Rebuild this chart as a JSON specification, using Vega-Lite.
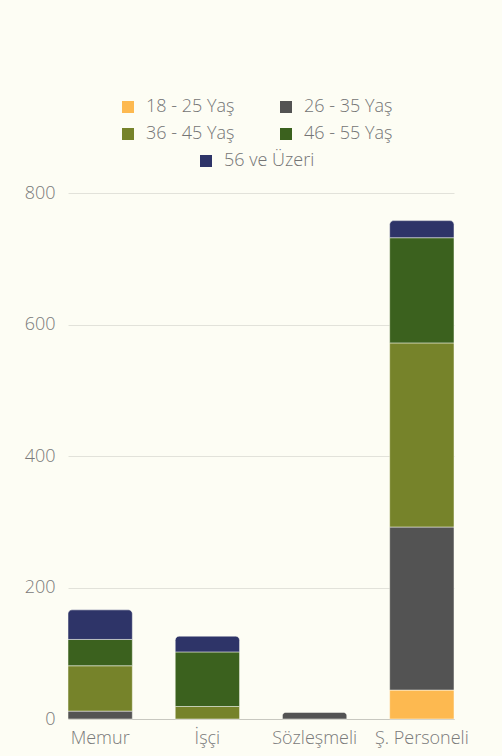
{
  "$schema": "https://vega.github.io/schema/vega-lite/v6.json",
  "width": 386,
  "height": 526,
  "autosize": {"type": "none"},
  "padding": {"left": 68, "top": 193, "right": 48, "bottom": 37},
  "background": "#fdfdf4",
  "config": {
    "view": {"stroke": null},
    "font": "Open Sans",
    "axis": {"labelFont": "Open Sans", "labelColor": "#7a7a7a", "labelFontSize": 18, "labelFontWeight": 300},
    "legend": {"labelFont": "Open Sans", "labelColor": "#747474", "labelFontSize": 18, "labelFontWeight": 300}
  },
  "data": {
    "values": [
      {"kadro": "Memur", "yas": "18 - 25 Yaş", "sira": 1, "sayi": 0},
      {"kadro": "Memur", "yas": "26 - 35 Yaş", "sira": 2, "sayi": 12},
      {"kadro": "Memur", "yas": "36 - 45 Yaş", "sira": 3, "sayi": 69},
      {"kadro": "Memur", "yas": "46 - 55 Yaş", "sira": 4, "sayi": 40},
      {"kadro": "Memur", "yas": "56 ve Üzeri", "sira": 5, "sayi": 45},
      {"kadro": "İşçi", "yas": "18 - 25 Yaş", "sira": 1, "sayi": 0},
      {"kadro": "İşçi", "yas": "26 - 35 Yaş", "sira": 2, "sayi": 0},
      {"kadro": "İşçi", "yas": "36 - 45 Yaş", "sira": 3, "sayi": 19},
      {"kadro": "İşçi", "yas": "46 - 55 Yaş", "sira": 4, "sayi": 83},
      {"kadro": "İşçi", "yas": "56 ve Üzeri", "sira": 5, "sayi": 24},
      {"kadro": "Sözleşmeli", "yas": "18 - 25 Yaş", "sira": 1, "sayi": 0},
      {"kadro": "Sözleşmeli", "yas": "26 - 35 Yaş", "sira": 2, "sayi": 10},
      {"kadro": "Sözleşmeli", "yas": "36 - 45 Yaş", "sira": 3, "sayi": 0},
      {"kadro": "Sözleşmeli", "yas": "46 - 55 Yaş", "sira": 4, "sayi": 0},
      {"kadro": "Sözleşmeli", "yas": "56 ve Üzeri", "sira": 5, "sayi": 0},
      {"kadro": "Ş. Personeli", "yas": "18 - 25 Yaş", "sira": 1, "sayi": 44},
      {"kadro": "Ş. Personeli", "yas": "26 - 35 Yaş", "sira": 2, "sayi": 248},
      {"kadro": "Ş. Personeli", "yas": "36 - 45 Yaş", "sira": 3, "sayi": 280},
      {"kadro": "Ş. Personeli", "yas": "46 - 55 Yaş", "sira": 4, "sayi": 160},
      {"kadro": "Ş. Personeli", "yas": "56 ve Üzeri", "sira": 5, "sayi": 26}
    ]
  },
  "transform": [
    {"stack": "sayi", "groupby": ["kadro"], "sort": [{"field": "sira", "order": "ascending"}], "as": ["y0", "y1"]},
    {"joinaggregate": [{"op": "max", "field": "y1", "as": "toplam"}], "groupby": ["kadro"]}
  ],
  "encoding": {
    "x": {
      "field": "kadro",
      "type": "nominal",
      "sort": ["Memur", "İşçi", "Sözleşmeli", "Ş. Personeli"],
      "scale": {"paddingInner": 0.4, "paddingOuter": 0},
      "axis": {"title": null, "labelAngle": 0, "ticks": false, "domainColor": "#c8c8c0", "labelPadding": 10}
    },
    "y": {
      "field": "y1",
      "type": "quantitative",
      "scale": {"domain": [0, 800]},
      "axis": {"title": null, "values": [0, 200, 400, 600, 800], "domain": false, "ticks": false, "labelPadding": 13, "gridColor": "#e2e2da"}
    },
    "y2": {"field": "y0"}
  },
  "layer": [
    {
      "transform": [{"filter": "datum.yas == '56 ve Üzeri' && datum.sayi == 0"}],
      "mark": {"type": "bar", "strokeWidth": 0},
      "encoding": {
        "fill": {
          "field": "yas",
          "type": "nominal",
          "scale": {"domain": ["56 ve Üzeri"], "range": ["#2e3468"]},
          "legend": {
            "title": null,
            "orient": "none",
            "legendX": 129,
            "legendY": -41,
            "symbolType": "square",
            "symbolSize": 144,
            "symbolStrokeWidth": 0,
            "labelOffset": 9
          }
        }
      }
    },
    {
      "transform": [{"filter": "datum.sayi > 0 && datum.y1 < datum.toplam"}],
      "mark": {"type": "bar", "stroke": "#fdfdf4", "strokeWidth": 0.5},
      "encoding": {
        "color": {
          "field": "yas",
          "type": "nominal",
          "scale": {
            "domain": ["18 - 25 Yaş", "26 - 35 Yaş", "36 - 45 Yaş", "46 - 55 Yaş", "56 ve Üzeri"],
            "range": ["#fdb950", "#535353", "#76832a", "#3b611e", "#2e3468"]
          },
          "legend": {
            "title": null,
            "orient": "none",
            "direction": "horizontal",
            "legendX": 51,
            "legendY": -95,
            "values": ["18 - 25 Yaş", "26 - 35 Yaş", "36 - 45 Yaş", "46 - 55 Yaş"],
            "columns": 2,
            "symbolType": "square",
            "symbolSize": 144,
            "symbolStrokeWidth": 0,
            "labelOffset": 9,
            "columnPadding": 42,
            "rowPadding": 9
          }
        }
      }
    },
    {
      "transform": [{"filter": "datum.sayi > 0 && datum.y1 == datum.toplam"}],
      "mark": {"type": "bar", "stroke": "#fdfdf4", "strokeWidth": 0.5, "cornerRadiusTopLeft": 4, "cornerRadiusTopRight": 4},
      "encoding": {
        "color": {"field": "yas", "type": "nominal"}
      }
    }
  ]
}
